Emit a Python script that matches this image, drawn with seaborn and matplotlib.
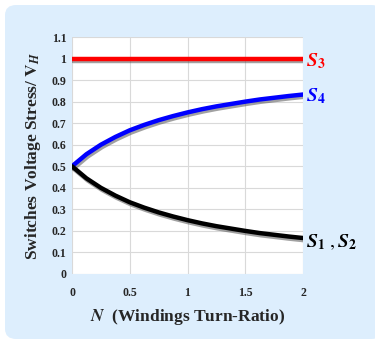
import matplotlib
matplotlib.use("Agg")
import matplotlib.pyplot as plt
import matplotlib.patheffects as pe
from matplotlib.patches import FancyBboxPatch
import seaborn as sns
import pandas as pd

N = [0, 0.125, 0.25, 0.375, 0.5, 0.625, 0.75, 0.875, 1.0,
     1.125, 1.25, 1.375, 1.5, 1.625, 1.75, 1.875, 2.0]
S3 = [1.0] * 17
S4 = [0.5, 0.556, 0.6, 0.636, 0.667, 0.692, 0.714, 0.733, 0.75,
      0.765, 0.778, 0.789, 0.8, 0.81, 0.818, 0.826, 0.833]
S12 = [0.5, 0.444, 0.4, 0.364, 0.333, 0.308, 0.286, 0.267, 0.25,
       0.235, 0.222, 0.211, 0.2, 0.19, 0.182, 0.174, 0.167]
xticks = [0, 0.5, 1, 1.5, 2]
yticks = [0, 0.1, 0.2, 0.3, 0.4, 0.5, 0.6, 0.7, 0.8, 0.9, 1.0, 1.1]
ytick_labels = ["0", "0.1", "0.2", "0.3", "0.4", "0.5", "0.6", "0.7", "0.8", "0.9", "1", "1.1"]
xtick_labels = ["0", "0.5", "1", "1.5", "2"]

sns.set_style("white")
plt.rcParams['font.family'] = ['Liberation Serif', 'DejaVu Serif']
plt.rcParams['mathtext.fontset'] = 'stix'

fig = plt.figure(figsize=(3.75, 3.39), dpi=100)
fig.patch.set_facecolor("white")
bg = FancyBboxPatch((5 / 375, 0), 1 - 5 / 375 + 0.02, 1 - 5 / 339,
                    boxstyle="round,pad=0,rounding_size=0.03",
                    transform=fig.transFigure, facecolor="#ddeefd",
                    edgecolor="none", zorder=-10)
fig.patches.append(bg)

ax = fig.add_axes([72 / 375, 65 / 339, 231 / 375, 237 / 339])
ax.set_facecolor("white")

df = pd.DataFrame({"N": N, "S3": S3, "S4": S4, "S12": S12})
shadow = [pe.SimpleLineShadow(offset=(1.0, -1.6), shadow_color="#555555", alpha=0.55, rho=0.9),
          pe.Normal()]
sns.lineplot(data=df, x="N", y="S3", ax=ax, color="#ff0000", lw=3.2, path_effects=shadow)
sns.lineplot(data=df, x="N", y="S4", ax=ax, color="#0000ff", lw=3.2, path_effects=shadow)
sns.lineplot(data=df, x="N", y="S12", ax=ax, color="#000000", lw=3.2, path_effects=shadow)

ax.set_xlim(0, 2)
ax.set_ylim(0, 1.1)
ax.set_xticks(xticks)
ax.set_xticklabels(xtick_labels, fontsize=8.5, fontweight="bold")
ax.set_yticks(yticks)
ax.set_yticklabels(ytick_labels, fontsize=8.5, fontweight="bold")
ax.tick_params(axis="both", length=0, pad=4)
ax.tick_params(axis="x", pad=9)
ax.grid(True, color="#d9d9d9", lw=0.8)
for s in ax.spines.values():
    s.set_visible(False)

ax.set_xlabel(r"$\mathbfit{N}$  (Windings Turn-Ratio)", fontsize=12.5, fontweight="bold", labelpad=6)
ax.set_ylabel(r"Switches Voltage Stress/ $\mathbf{V}_{\mathbfit{H}}$", fontsize=12.5, fontweight="bold", labelpad=6)

ax.text(2.03, 0.99, r"$\mathbfit{S}_\mathbf{3}$", color="#ff0000", fontsize=14, va="center", ha="left", clip_on=False)
ax.text(2.03, 0.825, r"$\mathbfit{S}_\mathbf{4}$", color="#0000ff", fontsize=14, va="center", ha="left", clip_on=False)
ax.text(2.03, 0.145, r"$\mathbfit{S}_\mathbf{1}\ ,\mathbfit{S}_\mathbf{2}$", color="#000000", fontsize=14, va="center", ha="left", clip_on=False)

fig.savefig("out.png", dpi=100)
